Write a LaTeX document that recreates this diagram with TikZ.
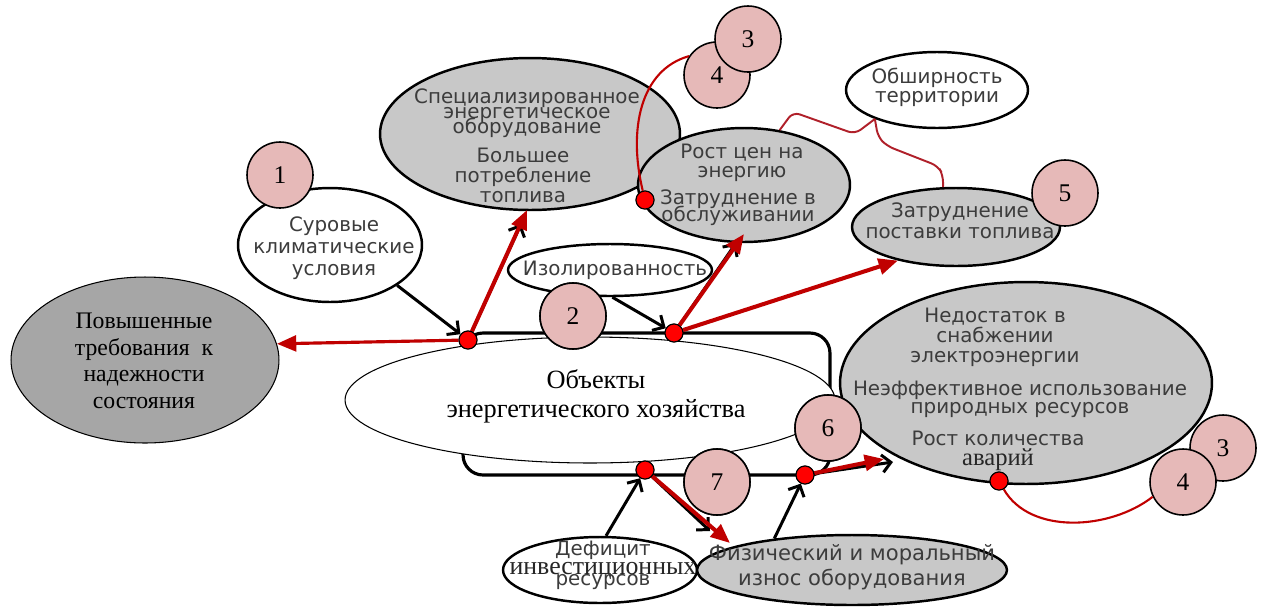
\documentclass[tikz,border=0pt]{standalone}
\usepackage{fontspec}
\setmainfont{Liberation Serif}
\newfontfamily\sansf{DejaVu Sans}
\usetikzlibrary{shapes.geometric,arrows.meta,calc}
\definecolor{gfill}{HTML}{C8C8C8}
\definecolor{dgfill}{HTML}{A6A6A6}
\definecolor{pinkc}{HTML}{E6B9B8}
\definecolor{redarr}{HTML}{C00000}
\definecolor{bracered}{HTML}{B0202A}
\definecolor{txtg}{HTML}{3C3C3C}
\definecolor{dotred}{HTML}{FF0000}
\newcommand\tightls{\lineskiplimit=-50pt\relax}
\begin{document}
\begin{tikzpicture}[x=0.02cm,y=-0.02cm,
 ell/.style={ellipse,draw=black,line width=1.4pt,inner sep=0pt},
 gell/.style={ell,fill=gfill},
 well/.style={ell,fill=white},
 stxt/.style={font=\sansf\fontsize{11.3}{#1}\selectfont\tightls,text=txtg,align=center,inner sep=0pt,anchor=base},
 stxt/.default=12,
 rtxt/.style={font=\fontsize{14}{#1}\selectfont\tightls,text=black,align=center,inner sep=0pt,anchor=base},
 rtxt/.default=16,
 num/.style={circle,draw=black,line width=0.9pt,fill=pinkc,minimum size=1.32cm,inner sep=0pt,font=\fontsize{14.5}{16}\selectfont},
 rdot/.style={circle,draw=black,line width=0.6pt,fill=dotred,minimum size=0.36cm,inner sep=0pt},
 blk/.style={line width=1.7pt,draw=black,-{Straight Barb[length=5pt,width=10pt]}},
 rar/.style={line width=2.3pt,draw=redarr,-{Triangle[length=11pt,width=9pt]}},
 rline/.style={line width=1.2pt,draw=redarr},
]
\fill[white] (0,0) rectangle (1264,609);
\useasboundingbox (0,0) rectangle (1264,609);

% frame and central ellipse
\node[draw=black,line width=1.8pt,rounded corners=0.4cm,minimum width=7.34cm,minimum height=2.84cm,inner sep=0pt] (frame) at (646.5,404) {};
\node[ell,fill=white,line width=0.6pt,minimum width=9.8cm,minimum height=2.52cm] (C) at (590,400) {};
\node[ell,fill=dgfill,line width=0.6pt,minimum width=5.36cm,minimum height=3.32cm] (L) at (145,360) {};

% ellipses
\node[gell,minimum width=6cm,minimum height=3.04cm] (S) at (530,134) {};
\node[gell,minimum width=4.24cm,minimum height=2.28cm] (P) at (744,185) {};
\node[well,minimum width=3.64cm,minimum height=1.52cm] (O) at (937,90) {};
\node[gell,minimum width=4.16cm,minimum height=1.56cm] (Z) at (956,227) {};
\node[well,minimum width=3.68cm,minimum height=2.28cm] (K) at (330,245) {};
\node[well,minimum width=4.08cm,minimum height=1.04cm] (I) at (610,270) {};
\node[gell,minimum width=7.44cm,minimum height=4.04cm] (N) at (1026,383) {};
\node[well,minimum width=3.88cm,minimum height=1.32cm] (Dn) at (600,570) {};
\node[gell,minimum width=6.2cm,minimum height=1.4cm] (F) at (852,570) {};

% texts (anchor = baseline of the last line)
\node[rtxt=15,font=\fontsize{13.5}{15}\selectfont\tightls] (Ltxt) at (144,408) {Повышенные\\требования~~к\\надежности\\состояния};
\node[rtxt=16.4,font=\fontsize{15}{16.4}\selectfont\tightls] (Ctxt) at (596,417) {Объекты\\энергетического хозяйства};
\node[stxt=8.5] (S1) at (527,133) {Специализированное\\энергетическое\\оборудование};
\node[stxt=11.2] (S2) at (523,202) {Большее\\потребление\\топлива};
\node[stxt=10.6] (P1) at (742,177) {Рост цен на\\энергию};
\node[stxt=9.6] (P2) at (738,221) {Затруднение в\\обслуживании};
\node[stxt=11.8] (Ztxt) at (960,238) {Затруднение\\поставки топлива};
\node[stxt=10.8] (Otxt) at (937,102) {Обширность\\территории};
\node[stxt=11.2] (N1) at (995,362) {Недостаток в\\снабжении\\электроэнергии};
\node[stxt=10.2] (N2) at (1020,413) {Неэффективное использование\\природных ресурсов};
\node[stxt=11.3] (N3) at (998,465) {Рост количества\\{\rmfamily\fontsize{14}{11.3}\selectfont\color{black!85}аварий}};
\node[stxt=12.5] (Ktxt) at (334,275) {Суровые\\климатические\\условия};
\node[stxt] (Itxt) at (615,275) {Изолированность};
\node[stxt=14.2,font=\sansf\fontsize{12}{14.2}\selectfont\tightls] (Ftxt) at (852,585) {Физический и моральный\\износ оборудования};
\node[stxt=10.8] (Dtxt) at (603,585) {Дефицит\\{\rmfamily\fontsize{14.7}{10.8}\selectfont\color{black!85}инвестиционных}\\[-5pt]ресурсов};

% red dots
\node[rdot] (D1) at (468,340) {};
\node[rdot] (D2) at (674,333) {};
\node[rdot] (D3) at (645,470) {};
\node[rdot] (D4) at (805,475) {};
\node[rdot] (D5) at (645,200) {};
\node[rdot] (D6) at (999,481) {};

% number circles
\node[num] (n1) at (280,175) {1};
\node[num] (n2) at (573,316) {2};
\node[num] (t4) at (717,75) {4};
\node[num] (t3) at (748,39) {3};
\node[num] (n5) at (1065,193) {5};
\node[num] (n6) at (828,428) {6};
\node[num] (n7) at (717,482) {7};
\node[num] (b3) at (1223,448) {3};
\node[num] (b4) at (1183,482) {4};

% free ends of overlaid arrows
\coordinate (rS) at (527,210); \coordinate (bS) at (521,224);
\coordinate (rP) at (744,234); \coordinate (bP) at (736,243);
\coordinate (rN) at (884,459); \coordinate (bN) at (893,462);
\coordinate (rF) at (730,543); \coordinate (bF) at (710,531);

% brace from Обширность
\draw[rline,draw=bracered,line width=1.1pt,rounded corners=4pt] (P.57) -- (793,112) -- (855,134) -- (O.205);
\draw[rline,draw=bracered,line width=1.1pt,rounded corners=4pt] (O.205) -- (878,137) -- (887,146) -- (938,166) -- (943,175) -- (Z.108);
% thin red curves
\draw[rline] (D5) .. controls (628,130) and (640,70) .. (t4.146);
\draw[rline] (D6) .. controls (1030,535) and (1110,530) .. (b4.206);

% black arrows
\draw[blk] (K.-31) -- (D1);
\draw[blk] (I.-85) -- (D2);
\draw[blk] (Dn.80) -- (D3);
\draw[blk] (F.158) -- (D4);
\draw[blk] (D1) -- (bS);
\draw[blk] (D2) -- (bP);
\draw[blk] (D4) -- (bN);
\draw[blk] (D3) -- (bF);

% red arrows
\draw[rar,line width=1.8pt] (D1) -- (L.7);
\draw[rar] (D1) -- (rS);
\draw[rar] (D2) -- (rP);
\draw[rar] (D2) -- (Z.210);
\draw[rar] (D3) -- (rF);
\draw[rar] (D4) -- (rN);

% dots and circles kept on top of the arrows
\foreach \p in {(468,340),(674,333),(645,470),(805,475),(645,200),(999,481)}
  \node[rdot] at \p {};
\node[num] at (n6) {6};
\node[num] at (n7) {7};
\node[num] at (n2) {2};
\end{tikzpicture}
\end{document}
